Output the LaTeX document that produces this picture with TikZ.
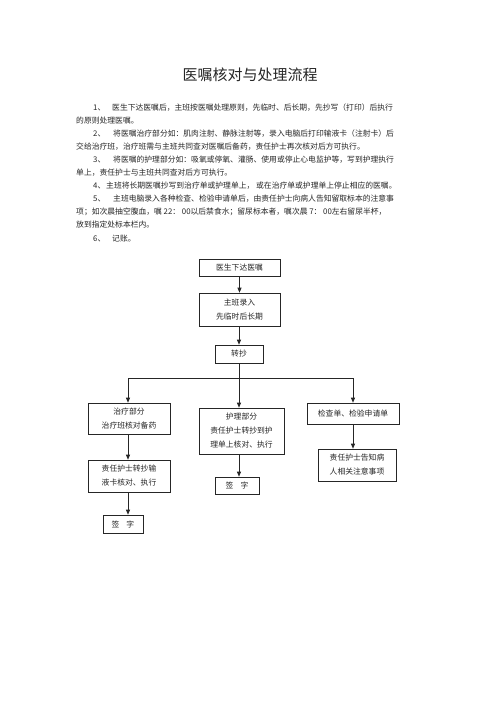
\documentclass[tikz,border=0pt]{standalone}
\usepackage{fontspec}
\setmainfont{Noto Sans CJK SC}
\usetikzlibrary{arrows.meta}
\newcommand\bodyfs{\fontsize{7.8pt}{14pt}\selectfont}
\newcommand\titlefs{\fontsize{15pt}{18pt}\selectfont}
\begin{document}
\begin{tikzpicture}[x=1pt,y=-1pt,
  box/.style={draw=black!85, line width=0.6pt, inner sep=0pt, align=center, font=\bodyfs, text=black!85},
  conn/.style={draw=black!85, line width=0.7pt},
  arr/.style={conn, -{Triangle[length=5pt,width=4pt]}},
  ln/.style={anchor=base west, inner sep=0pt, font=\bodyfs, text=black!85}]
\fill[white] (0,0) rectangle (500,708);
\path[use as bounding box] (0,0) rectangle (500,708);

% title
\node[font=\titlefs, text=black!85, inner sep=0pt] (title) at (250,75) {医嘱核对与处理流程};

% body text
\node[ln] (n1) at (93,111) {1、};
\node[ln] (t1) at (112,111) {医生下达医嘱后，主班按医嘱处理原则，先临时、后长期，先抄写（打印）后执行};
\node[ln] (t2) at (76,124) {的原则处理医嘱。};
\node[ln] (n2) at (93,137) {2、};
\node[ln] (t3) at (113,137) {将医嘱治疗部分如：肌肉注射、静脉注射等，录入电脑后打印输液卡（注射卡）后};
\node[ln] (t4) at (76,150) {交给治疗班，治疗班需与主班共同查对医嘱后备药，责任护士再次核对后方可执行。};
\node[ln] (n3) at (93,163) {3、};
\node[ln] (t5) at (113,163) {将医嘱的护理部分如：吸氧或停氧、灌肠、使用或停止心电监护等，写到护理执行};
\node[ln] (t6) at (76,176) {单上，责任护士与主班共同查对后方可执行。};
\node[ln] (n4) at (93,189) {4、};
\node[ln] (t7) at (106,189) {主班将长期医嘱抄写到治疗单或护理单上， 或在治疗单或护理单上停止相应的医嘱。};
\node[ln] (n5) at (93,202) {5、};
\node[ln] (t8) at (113,202) {主班电脑录入各种检查、检验申请单后，由责任护士向病人告知留取标本的注意事};
\node[ln] (t9) at (76,215) {项；如次晨抽空腹血，嘱 22： 00以后禁食水；留尿标本者，嘱次晨 7： 00左右留尿半杯，};
\node[ln] (t10) at (76,228) {放到指定处标本栏内。};
\node[ln] (n6) at (93,242) {6、};
\node[ln] (t11) at (112,242) {记账。};

% flowchart boxes
\node[box, minimum width=81pt, minimum height=17pt] (b1) at (239.5,267.5) {医生下达医嘱};
\node[box, minimum width=81pt, minimum height=33pt] (b2) at (239.5,309.5) {主班录入\\先临时后长期};
\node[box, minimum width=48pt, minimum height=18pt] (b3) at (239,354) {转抄};

\node[box, minimum width=82pt, minimum height=31pt] (L1) at (129,418.5) {治疗部分\\治疗班核对备药};
\node[box, minimum width=82pt, minimum height=32pt] (L2) at (129,476) {责任护士转抄输\\液卡核对、执行};
\node[box, minimum width=40pt, minimum height=18pt] (L3) at (123,524) {签\hspace{7pt}字};

\node[box, minimum width=85pt, minimum height=46pt] (M1) at (241.5,431) {护理部分\\责任护士转抄到护\\理单上核对、执行};
\node[box, minimum width=44pt, minimum height=17pt] (M2) at (237,485.5) {签\hspace{7pt}字};

\node[box, minimum width=92pt, minimum height=21pt] (R1) at (353,413.5) {检查单、检验申请单};
\node[box, minimum width=78pt, minimum height=32pt] (R2) at (357,465) {责任护士告知病\\人相关注意事项};

% junctions
\coordinate (jL) at (128,378);
\coordinate (jM) at (239,378);
\coordinate (jR) at (353,378);

% connectors
\draw[arr] (b1) -- (b2);
\draw[arr] (b3.north |- b2.south) -- (b3.north);
\draw[arr] (b3.south) -- (b3.south |- M1.north);
\draw[conn] (jL) -- (jR);
\draw[arr] (jL) -- (jL |- L1.north);
\draw[arr] (jR) -- (R1.north);
\draw[arr] (jL |- L1.south) -- (jL |- L2.north);
\draw[arr] (jL |- L2.south) -- (jL |- L3.north);
\draw[arr] (b3.south |- M1.south) -- (b3.south |- M2.north);
\draw[arr] (R1.south) -- (R1.south |- R2.north);
\end{tikzpicture}
\end{document}
